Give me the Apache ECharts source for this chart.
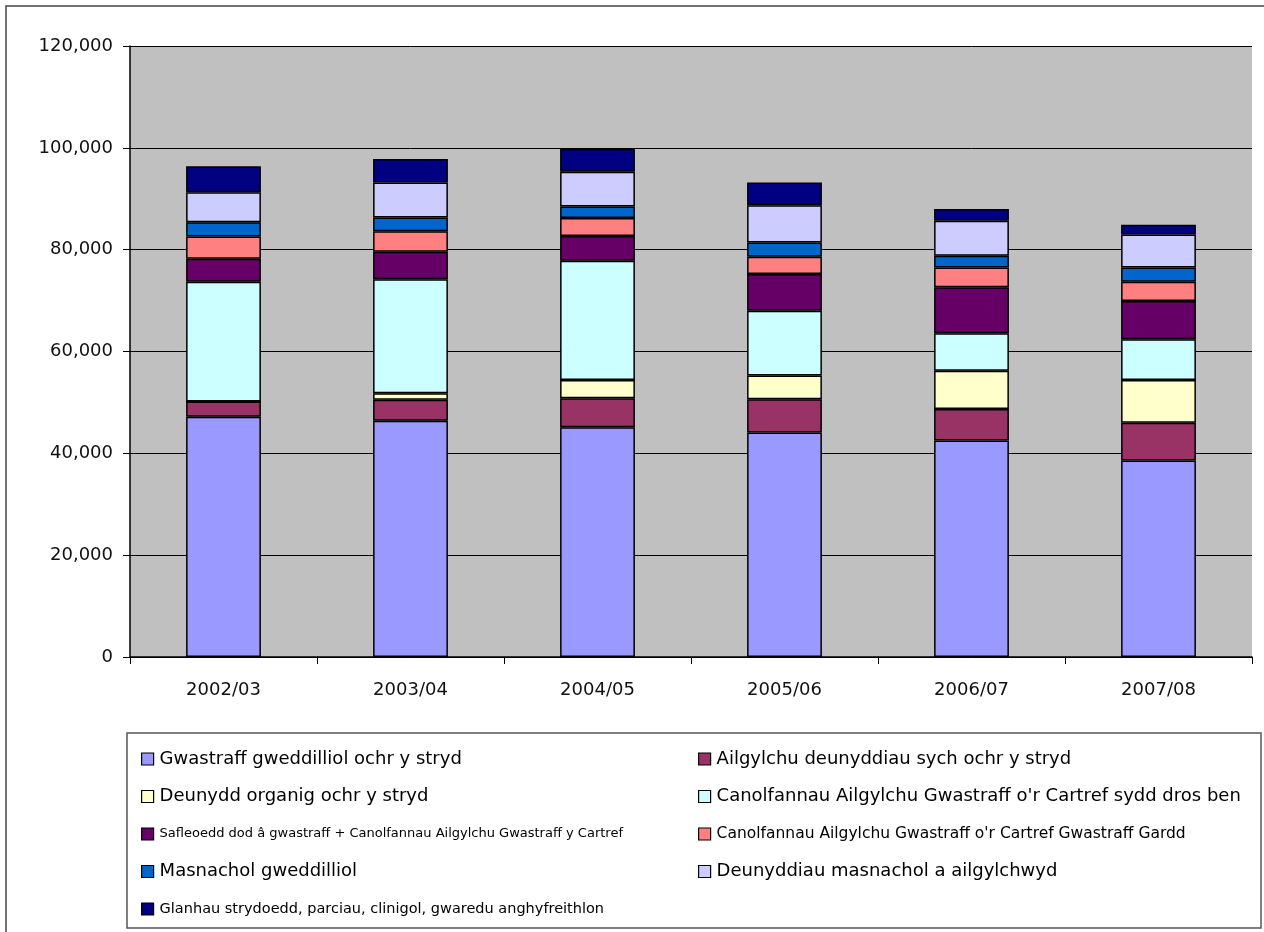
<!DOCTYPE html>
<html>
<head>
<meta charset="utf-8">
<script src="https://cdn.jsdelivr.net/npm/echarts@6/dist/echarts.min.js"></script>
<style>
  html, body { margin: 0; padding: 0; background: #fff; }
  #chart { width: 1264px; height: 932px; }
</style>
</head>
<body>
<div id="chart"></div>
<script>
// blynyddoedd
const years = ['2002/03', '2003/04', '2004/05', '2005/06', '2006/07', '2007/08'];

// tunelli, darllen o'r llun
const gweddilliolStryd = [47200, 46400, 45100, 44100, 42500, 38600];
const sychStryd       = [3000, 4100, 5700, 6500, 6200, 7400];
const organigStryd    = [0, 1300, 3600, 4700, 7500, 8400];
const drosBen         = [23500, 22400, 23400, 12700, 7400, 8000];
const safleoedd       = [4500, 5400, 4900, 7200, 9000, 7500];
const gardd           = [4400, 4000, 3500, 3400, 3900, 3800];
const masnachol       = [2800, 2700, 2300, 2800, 2300, 2800];
const masnacholAilg   = [5900, 6900, 6800, 7300, 6900, 6500];
const glanhau         = [5100, 4600, 4500, 4500, 2300, 1900];

const yTicks = [0, 20000, 40000, 60000, 80000, 100000, 120000];

const names = [
  'Gwastraff gweddilliol ochr y stryd',
  'Ailgylchu deunyddiau sych ochr y stryd',
  'Deunydd organig ochr y stryd',
  'Canolfannau Ailgylchu Gwastraff o\'r Cartref sydd dros ben',
  'Safleoedd dod â gwastraff + Canolfannau Ailgylchu Gwastraff y Cartref',
  'Canolfannau Ailgylchu Gwastraff o\'r Cartref Gwastraff Gardd',
  'Masnachol gweddilliol',
  'Deunyddiau masnachol a ailgylchwyd',
  'Glanhau strydoedd, parciau, clinigol, gwaredu anghyfreithlon'
];
const values = [gweddilliolStryd, sychStryd, organigStryd, drosBen, safleoedd, gardd, masnachol, masnacholAilg, glanhau];
const colors = ['#9999FF', '#993366', '#FFFFCC', '#CCFFFF', '#660066', '#FF8080', '#0066CC', '#CCCCFF', '#000080'];

const chart = echarts.init(document.getElementById('chart'));

const font = 'DejaVu Sans, Arial, sans-serif';

const series = names.map((n, i) => ({
  name: n,
  type: 'bar',
  stack: 'total',
  barWidth: '40%',
  data: values[i],
  itemStyle: { color: colors[i], borderColor: '#000', borderWidth: 1.5 },
  emphasis: { disabled: true }
}));

const legendBase = {
  orient: 'vertical',
  top: 744,
  itemWidth: 12,
  itemHeight: 12,
  itemGap: 17.5,
  icon: 'rect',
  selectedMode: false,
  itemStyle: { borderColor: '#000', borderWidth: 1.2 },
  textStyle: { fontFamily: font, fontSize: 18, color: '#000', lineHeight: 20, padding: [0, 0, 0, 1] }
};

const option = {
  animation: false,
  backgroundColor: '#fff',
  grid: { left: 130, right: 12, top: 46, bottom: 275, show: true, backgroundColor: '#C0C0C0', borderWidth: 0 },
  graphic: [
    { type: 'rect', shape: { x: 6, y: 6, width: 1270, height: 940 }, style: { fill: 'none', stroke: '#444', lineWidth: 1.5 }, z: -1 },
    { type: 'rect', shape: { x: 127, y: 733, width: 1134, height: 195 }, style: { fill: '#fff', stroke: '#555', lineWidth: 1.5 }, z: -1 }
  ],
  legend: [
    Object.assign({}, legendBase, {
      left: 136,
      data: [
        { name: names[0] },
        { name: names[2] },
        { name: names[4], textStyle: { fontSize: 13 } },
        { name: names[6] },
        { name: names[8], textStyle: { fontSize: 14.5 } }
      ]
    }),
    Object.assign({}, legendBase, {
      left: 693,
      data: [
        { name: names[1] },
        { name: names[3] },
        { name: names[5], textStyle: { fontSize: 15.5 } },
        { name: names[7] }
      ]
    })
  ],
  xAxis: {
    type: 'category',
    data: years,
    axisLine: { lineStyle: { color: '#000', width: 1.5 } },
    axisTick: { show: true, length: 7, lineStyle: { color: '#000' } },
    axisLabel: { fontFamily: font, fontSize: 18, color: '#111', margin: 24 }
  },
  yAxis: {
    type: 'value',
    min: 0,
    max: 120000,
    interval: 20000,
    axisLine: { show: true, lineStyle: { color: '#000', width: 1.5 } },
    axisTick: { show: true, length: 7, lineStyle: { color: '#000' } },
    splitLine: { lineStyle: { color: '#000', width: 1 } },
    axisLabel: {
      fontFamily: font, fontSize: 18, color: '#111', margin: 17,
      formatter: v => yTicks.includes(v) ? v.toLocaleString('en-US') : ''
    }
  },
  series: series
};

chart.setOption(option);
</script>
</body>
</html>
